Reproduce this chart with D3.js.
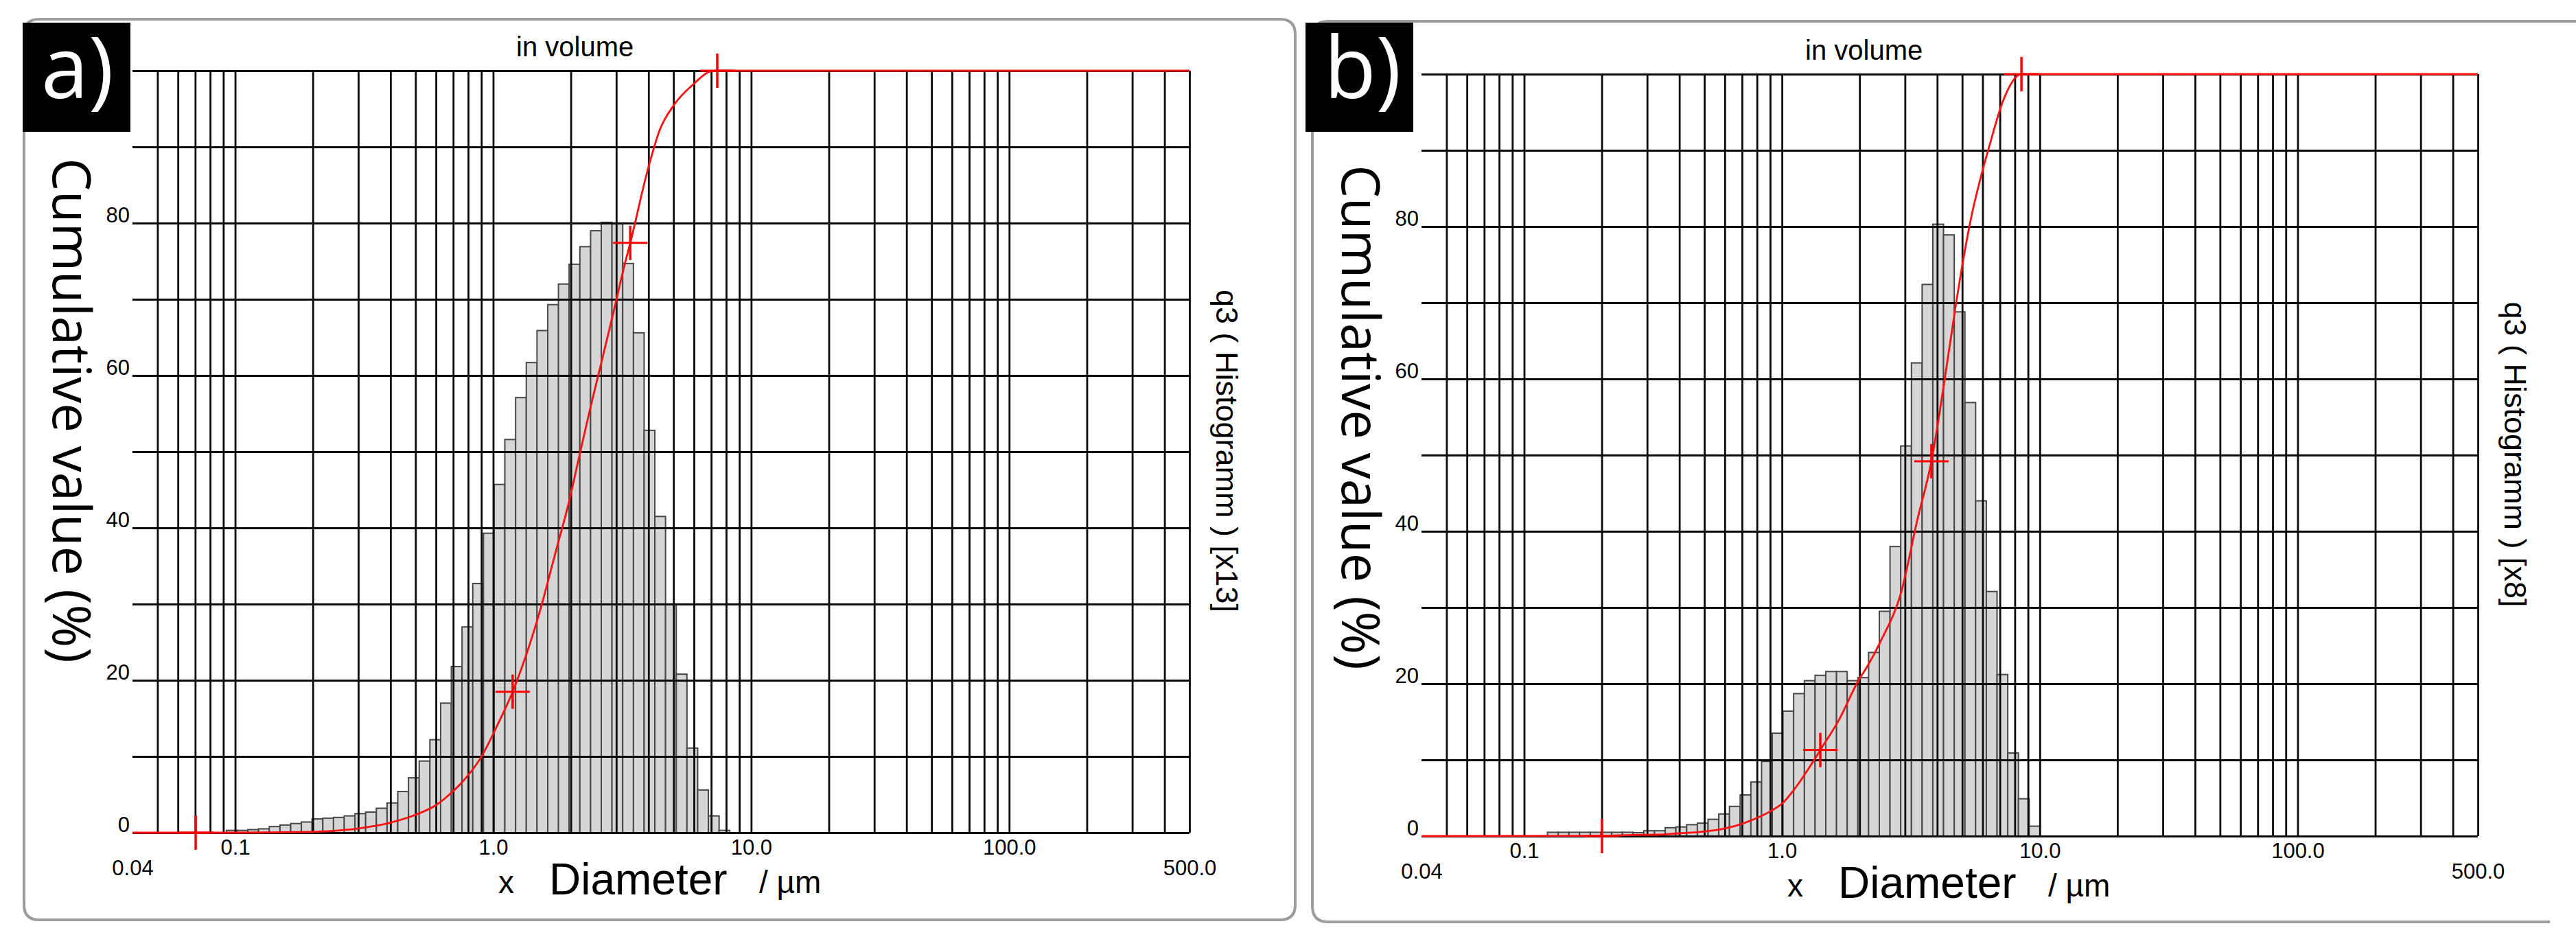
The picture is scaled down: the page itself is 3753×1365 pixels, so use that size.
<!DOCTYPE html>
<html><head><meta charset="utf-8">
<script src="https://cdn.jsdelivr.net/npm/d3@7"></script>
<style>body{margin:0;background:#fff}svg{display:block}</style>
</head><body>
<svg id="c" width="3753" height="1365"></svg>
<script>
// ---- data ----
const binEdges = [0.0925,0.1018,0.112,0.1232,0.1356,0.1492,0.1642,0.1806,0.1987,0.2187,0.2406,0.2647,0.2913,0.3205,0.3526,0.388,0.4269,0.4698,0.5169,0.5687,0.6258,0.6885,0.7576,0.8336,0.9172,1.009,1.11,1.222,1.344,1.479,1.628,1.791,1.970,2.168,2.386,2.625,2.888,3.178,3.497,3.847,4.233,4.658,5.125,5.639,6.205,6.827,7.512,8.265,9.094,10.01];
const q3A = [0.3,0.3,0.4,0.5,0.8,1.0,1.2,1.4,1.8,1.9,2.0,2.2,2.5,2.7,3.2,3.9,5.4,7.2,9.4,12.2,17.0,21.8,27.0,32.7,39.3,45.7,51.6,57.1,61.7,65.9,69.3,72.0,74.6,76.9,79.0,80.1,79.9,74.7,65.6,52.8,41.5,30.0,20.8,11.1,5.6,2.2,0.3];
const q3B = [0,0,0,0.5,0.5,0.5,0.5,0.5,0.5,0.5,0.5,0.45,0.7,0.7,1.1,1.2,1.5,1.7,2.2,2.9,3.9,5.4,7.1,9.8,13.5,16.4,18.7,20.4,21.1,21.6,21.6,20.4,20.8,24.1,29.5,38.0,51.2,62.1,72.4,80.3,78.9,68.8,56.9,44.0,32.1,21.2,10.9,4.9,1.3];
const cumDiamA = [0.04,0.1,0.2,0.308,0.398,0.514,0.6,0.666,0.757,0.898,1.028,1.19,1.53,1.73,1.97,2.16,2.36,2.64,2.95,3.23,3.40,3.96,4.42,5.02,5.96,6.95,7.4,500];
const cumA = [0,0,0.1,0.6,1.3,2.5,3.6,4.8,6.6,9.9,13.8,18.5,29.5,36.3,43.5,49.5,55.2,62.0,68.8,74.5,77.4,86.8,92.2,95.5,98.2,99.9,100,100];
const cumDiamB = [0.04,0.2,0.266,0.325,0.400,0.491,0.601,0.739,0.906,1.004,1.109,1.182,1.254,1.409,1.673,1.986,2.138,2.417,2.905,3.345,3.80,4.28,4.68,5.04,5.46,5.95,6.44,7.15,8.49,500];
const cumB = [0,0.05,0.15,0.18,0.36,0.57,1.0,1.9,3.3,4.3,6.0,7.3,8.6,11.3,15.4,20.5,22.2,25.6,32.1,41.4,49.2,60.0,68.8,75.5,81.7,86.9,91.1,96.2,100,100];
const markDiamA = [0.0703,1.19,3.40,7.39];
const markValA = [0,18.5,77.4,100];
const markDiamB = [0.2005,1.409,3.80,8.49];
const markValB = [0,11.3,49.2,100];
const gridX = [0.05,0.06,0.07,0.08,0.09,0.1,0.2,0.3,0.4,0.5,0.6,0.7,0.8,0.9,1,2,3,4,5,6,7,8,9,10,20,30,40,50,60,70,80,90,100,200,300,400,500];
const gridY = [0,10,20,30,40,50,60,70,80,90,100];
const yTicks = [0,20,40,60,80];
const xTicks = [0.1,1,10,100];
const xTickLabels = ["0.1","1.0","10.0","100.0"];
const xEndTicks = [0.04,500];
const xEndLabels = ["0.04","500.0"];
const panelLetters = ["a)","b)"];
const histLabels = ["q3 ( Histogramm ) [x13]","q3 ( Histogramm ) [x8]"];

// ---- drawing ----
const svg = d3.select('#c');
const ARIAL = "'Liberation Sans', Arial, sans-serif";
const OPEN = "'Open Sans', 'Noto Sans', sans-serif";

function drawPanel(p) {
  const g = svg.append('g');
  const x = d3.scaleLog().domain([0.04, 500]).range([p.left, p.right]);
  const y = d3.scaleLinear().domain([0, 100]).range([p.bottom, p.top]);

  // frame
  g.append('path').attr('d', p.frame).attr('fill', 'none').attr('stroke', '#9c9c9c').attr('stroke-width', 4);

  // letter box
  g.append('rect').attr('x', p.boxX).attr('y', 33).attr('width', 157).attr('height', 159).attr('fill', '#000');
  g.append('text').attr('x', p.boxX + 27).attr('y', 143).attr('fill', '#fff')
    .attr('font-family', OPEN).attr('font-size', 124).text(p.letter);

  // bars
  const bins = p.q3.map((v, i) => ({x0: binEdges[i], x1: binEdges[i + 1], v})).filter(d => d.v > 0);
  g.append('g').selectAll('rect').data(bins).join('rect')
    .attr('x', d => x(d.x0)).attr('width', d => x(d.x1) - x(d.x0))
    .attr('y', d => y(d.v)).attr('height', d => y(0) - y(d.v))
    .attr('fill', '#d6d6d6').attr('stroke', '#474747').attr('stroke-width', 2);

  // grid via axes
  const gx = g.append('g').attr('transform', `translate(0,${p.bottom})`)
    .call(d3.axisBottom(x).tickValues(gridX).tickSize(-(p.bottom - p.top)).tickFormat(''));
  gx.select('.domain').remove();
  gx.selectAll('line').attr('stroke', '#0a0a0a').attr('stroke-width', 2.8);
  const gy = g.append('g').attr('transform', `translate(${p.left},0)`)
    .call(d3.axisLeft(y).tickValues(gridY).tickSize(-(p.right - p.left)).tickFormat(''));
  gy.select('.domain').remove();
  gy.selectAll('line').attr('stroke', '#0a0a0a').attr('stroke-width', 2.8);

  // cumulative curve
  const line = d3.line().x((d, i) => x(p.cumD[i])).y(d => y(d)).curve(d3.curveMonotoneX);
  g.append('path').datum(p.cum).attr('d', line).attr('fill', 'none')
    .attr('stroke', '#ff1010').attr('stroke-width', 2.8);

  // markers
  const marks = p.markD.map((d, i) => ({d, v: p.markV[i]}));
  const mg = g.append('g').attr('stroke', '#ff0000');
  mg.selectAll('line.h').data(marks).join('line')
    .attr('x1', d => x(d.d) - 25).attr('x2', d => x(d.d) + 25)
    .attr('y1', d => y(d.v)).attr('y2', d => y(d.v)).attr('stroke-width', 3);
  mg.selectAll('line.v').data(marks).join('line')
    .attr('x1', d => x(d.d)).attr('x2', d => x(d.d))
    .attr('y1', d => y(d.v) - 25).attr('y2', d => y(d.v) + 25).attr('stroke-width', 3.5);

  // y tick labels
  const ya = g.append('g').attr('transform', `translate(${p.left - 4},0)`)
    .call(d3.axisLeft(y).tickValues(yTicks).tickSize(0).tickPadding(0));
  ya.select('.domain').remove();
  ya.selectAll('text').attr('dy', '-0.05em').attr('font-family', ARIAL).attr('font-size', 31).attr('fill', '#000');

  // x tick labels
  const xa = g.append('g').attr('transform', `translate(0,${p.bottom})`)
    .call(d3.axisBottom(x).tickValues(xTicks).tickSize(0).tickPadding(0).tickFormat((d, i) => xTickLabels[i]));
  xa.select('.domain').remove();
  xa.selectAll('text').attr('dy', null).attr('y', 32).attr('font-family', ARIAL).attr('font-size', 31).attr('fill', '#000');
  const xe = g.append('g').attr('transform', `translate(0,${p.bottom})`)
    .call(d3.axisBottom(x).tickValues(xEndTicks).tickSize(0).tickPadding(0).tickFormat((d, i) => xEndLabels[i]));
  xe.select('.domain').remove();
  xe.selectAll('text').attr('dy', null).attr('y', 62).attr('font-family', ARIAL).attr('font-size', 31).attr('fill', '#000');

  // axis title
  g.append('text').attr('x', p.left + 533).attr('y', p.bottom + 88).attr('font-family', ARIAL).attr('font-size', 46).text('x');
  g.append('text').attr('x', p.left + 607).attr('y', p.bottom + 90).attr('font-family', ARIAL).attr('font-size', 64).text('Diameter');
  g.append('text').attr('x', p.left + 913).attr('y', p.bottom + 88).attr('font-family', ARIAL).attr('font-size', 46).text('/ µm');

  // top title
  g.append('text').attr('x', p.left + 559).attr('y', p.top - 21).attr('font-family', ARIAL).attr('font-size', 40).text('in volume');

  // left label
  g.append('text').attr('transform', `translate(${p.left - 116},${p.leftLabelY}) rotate(90)`)
    .attr('text-anchor', 'middle').attr('font-family', OPEN).attr('font-size', 76).text('Cumulative value (%)');
  // right label
  g.append('text').attr('transform', `translate(${p.right + 39},${p.top + 554}) rotate(90)`)
    .attr('text-anchor', 'middle').attr('font-family', ARIAL).attr('font-size', 45).text(p.histLabel);
}

drawPanel({left: 193, right: 1733, top: 103, bottom: 1213, boxX: 33,
  frame: 'M57,28 H1865 Q1887,28 1887,50 V1318 Q1887,1340 1865,1340 H57 Q35,1340 35,1318 V50 Q35,28 57,28 Z',
  letter: panelLetters[0], q3: q3A, cumD: cumDiamA, cum: cumA, markD: markDiamA, markV: markValA,
  leftLabelY: 598, histLabel: histLabels[0]});
drawPanel({left: 2071, right: 3610, top: 108, bottom: 1218, boxX: 1902,
  frame: 'M3753,31 H1935 Q1912,31 1912,54 V1320 Q1912,1343 1935,1343 H3715',
  letter: panelLetters[1], q3: q3B, cumD: cumDiamB, cum: cumB, markD: markDiamB, markV: markValB,
  leftLabelY: 608, histLabel: histLabels[1]});
</script>
</body></html>
